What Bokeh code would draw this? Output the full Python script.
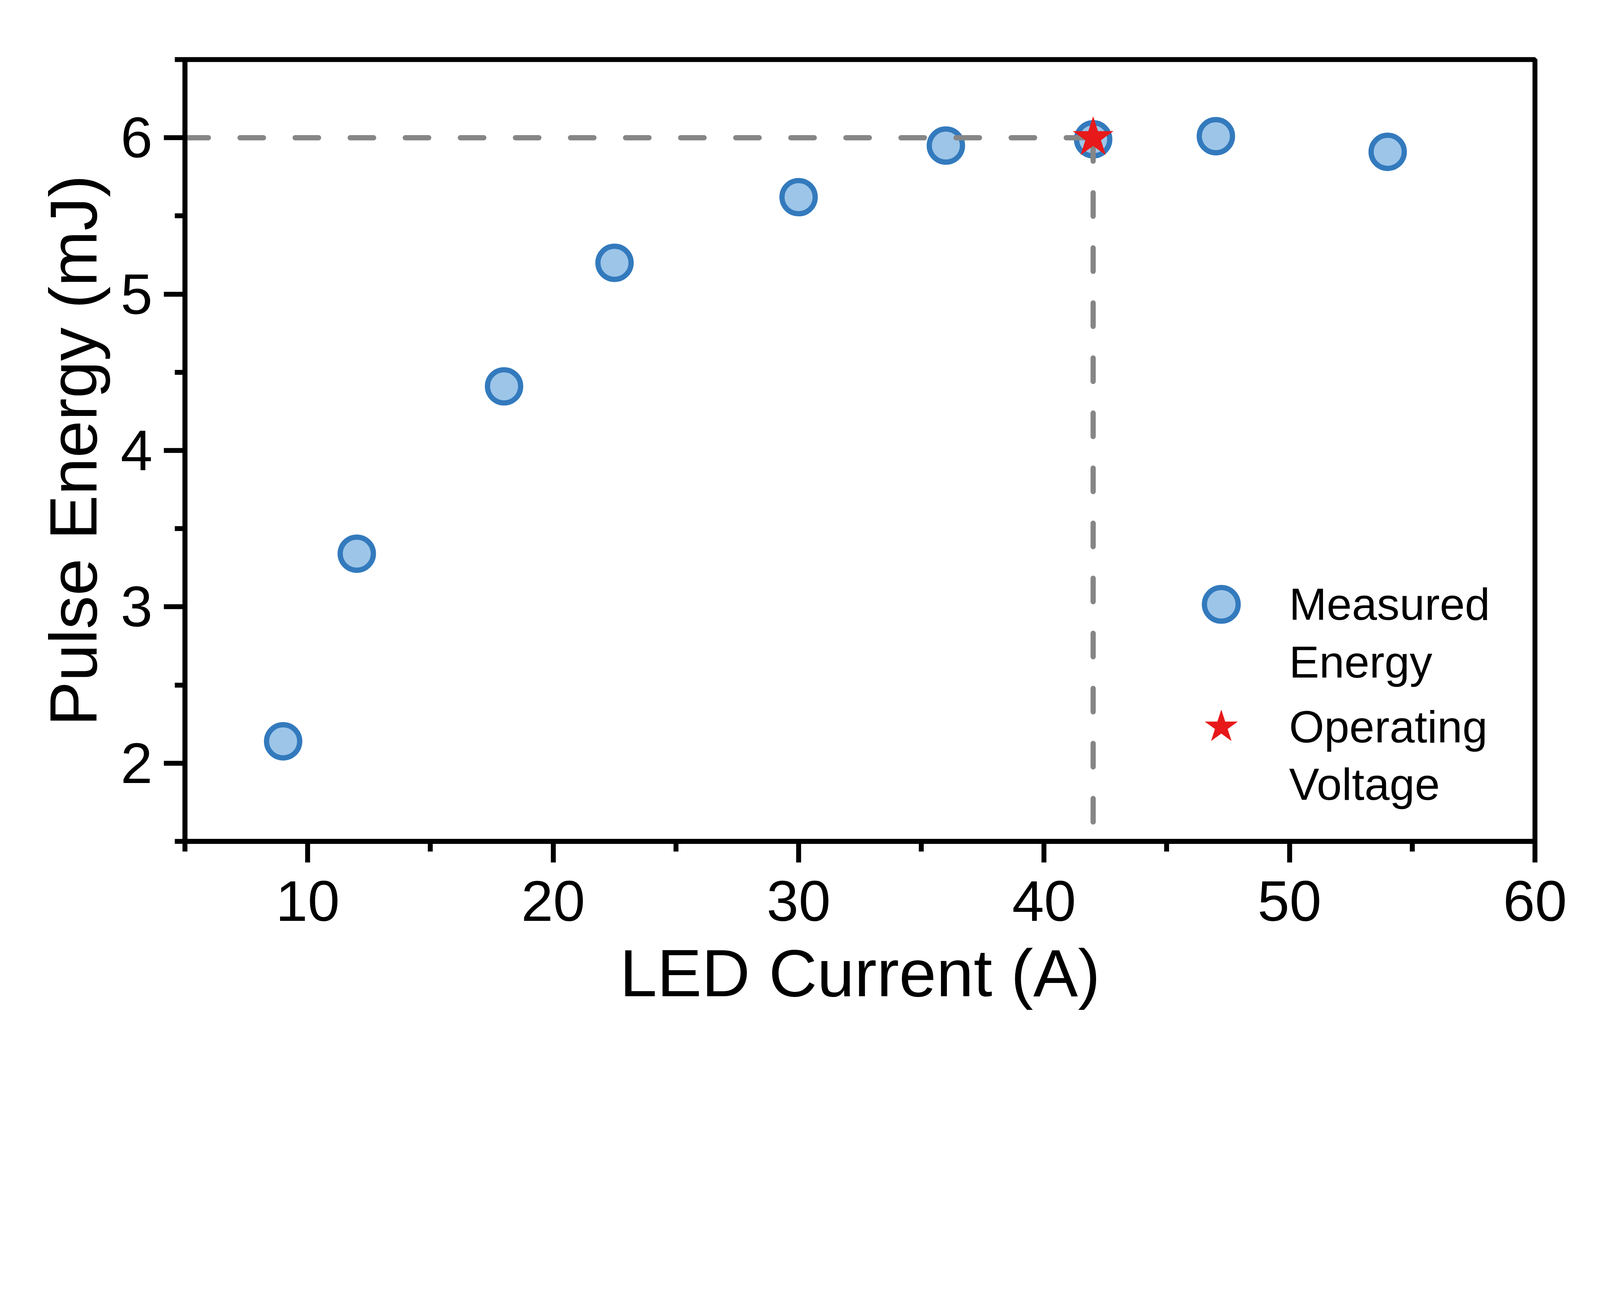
from bokeh.plotting import figure
from bokeh.models import Range1d, FixedTicker, Legend, LegendItem
from bokeh.embed import file_html
from bokeh.resources import INLINE

# ---- data ----
led_current = [9, 12, 18, 22.5, 30, 36, 42, 47, 54]
pulse_energy = [2.14, 3.34, 4.41, 5.20, 5.62, 5.95, 5.99, 6.01, 5.91]
operating_current = [42]
operating_energy = [6.0]

x_limits = [5, 60]
y_limits = [1.5, 6.5]
x_major = [10, 20, 30, 40, 50, 60]
x_minor = [5, 15, 25, 35, 45, 55]
y_major = [2, 3, 4, 5, 6]
y_minor = [1.5, 2.5, 3.5, 4.5, 5.5, 6.5]

# two-line legend labels: first line next to the marker, second line below
legend_first = ["Measured", "Operating"]
legend_second = ["Energy", "Voltage"]
x_title = "LED Current (A)"
y_title = "Pulse Energy (mJ)"

FONT = "Liberation Sans"
FILL = "#9DC5E8"
EDGE = "#337ABD"
STAR = "#E8191A"
GUIDE = "#868686"

S = 1 / 1.2705  # screen px per reference px


def px(v):
    return v * S


def fs(v):
    return f"{v * S:.1f}px"


p = figure(width=int(px(5196)), height=int(px(3318)), output_backend="svg",
           toolbar_location=None, title=None,
           x_range=Range1d(*x_limits), y_range=Range1d(*y_limits),
           min_border_left=int(px(602)), min_border_right=int(px(204)),
           min_border_top=int(px(194)), min_border_bottom=int(px(581)))
p.grid.visible = False
p.background_fill_color = "white"
p.border_fill_color = "white"
p.outline_line_color = "black"
p.outline_line_width = px(16)

for ax in (p.xaxis[0], p.yaxis[0]):
    ax.axis_line_width = px(16)
    ax.axis_line_color = "black"
    ax.major_tick_line_width = px(16)
    ax.minor_tick_line_width = px(16)
    ax.major_tick_line_color = "black"
    ax.minor_tick_line_color = "black"
    ax.major_tick_in = 0
    ax.minor_tick_in = 0
    ax.major_tick_out = int(px(69))
    ax.minor_tick_out = int(px(34))
    ax.major_label_text_font = FONT
    ax.major_label_text_font_size = fs(187)
    ax.major_label_text_color = "black"
    ax.axis_label_text_font = FONT
    ax.axis_label_text_font_size = fs(218)
    ax.axis_label_text_font_style = "normal"
    ax.axis_label_text_color = "black"

p.xaxis[0].ticker = FixedTicker(ticks=x_major, minor_ticks=x_minor)
p.yaxis[0].ticker = FixedTicker(ticks=y_major, minor_ticks=y_minor)
p.xaxis[0].axis_label = x_title
p.yaxis[0].axis_label = y_title
p.xaxis[0].major_label_standoff = int(px(61))
p.yaxis[0].major_label_standoff = int(px(37))
p.xaxis[0].axis_label_standoff = int(px(45))
p.yaxis[0].axis_label_standoff = int(px(30))

r_meas = p.scatter(led_current, pulse_energy, marker="circle", size=px(108),
                   fill_color=FILL, line_color=EDGE, line_width=px(17))

# dashed guide lines to the operating point
dash = f"{px(76):.0f} {px(103):.0f}"
p.line([x_limits[0], operating_current[0]], [operating_energy[0], operating_energy[0]],
       line_color=GUIDE, line_width=px(17), line_dash=dash, line_cap="round")
p.line([operating_current[0], operating_current[0]], [operating_energy[0], y_limits[0]],
       line_color=GUIDE, line_width=px(17), line_dash=dash, line_cap="round")

r_star = p.scatter(operating_current, operating_energy, marker="star", size=px(136),
                   fill_color=STAR, line_color=STAR, line_width=1)

common = dict(glyph_width=int(px(275)), label_standoff=int(px(84)), padding=0, margin=0,
              border_line_color=None, background_fill_alpha=0,
              label_text_font=FONT, label_text_font_size=fs(147),
              label_text_color="black")

legend_a = Legend(items=[LegendItem(label=legend_first[0], renderers=[r_meas]),
                         LegendItem(label=legend_first[1], renderers=[r_star])],
                  location=(int(px(3234)), int(px(236))),
                  glyph_height=int(px(275)), spacing=int(px(125)), **common)
legend_b = Legend(items=[LegendItem(label=legend_second[0], renderers=[]),
                         LegendItem(label=legend_second[1], renderers=[])],
                  location=(int(px(3234)), int(px(101))),
                  glyph_height=1, spacing=int(px(228)), **common)
p.add_layout(legend_a)
p.add_layout(legend_b)

open("out.html", "w").write(file_html(p, INLINE))
